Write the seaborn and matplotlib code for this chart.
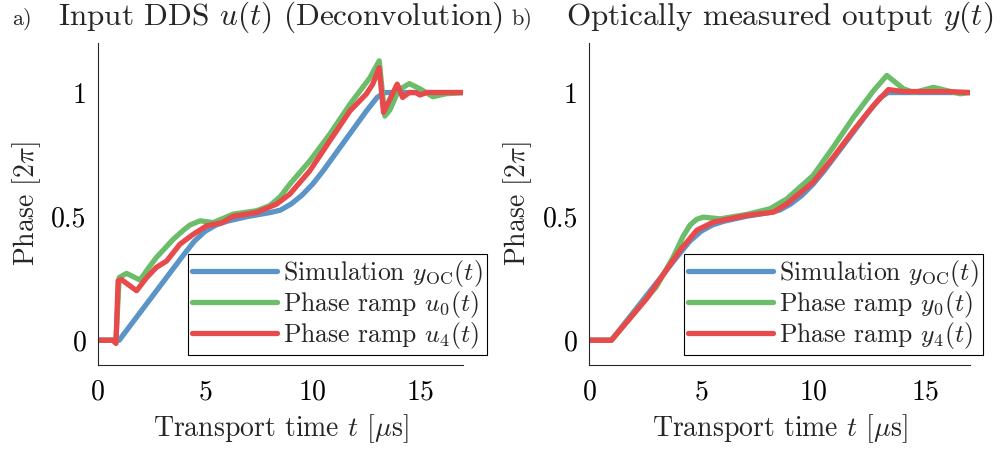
import numpy as np
import pandas as pd
import matplotlib
matplotlib.use("Agg")
import matplotlib.pyplot as plt
import seaborn as sns

# ---------------- data ----------------
t_sim = [0, 1.0, 2, 3, 4, 4.5, 5, 5.5, 6, 7, 8, 8.5, 9, 9.5, 10, 10.5, 11,
         11.5, 12, 12.5, 13, 13.35, 14, 15, 16, 17]
y_sim = [0, 0, 0.115, 0.23, 0.345, 0.40, 0.44, 0.465, 0.48, 0.50, 0.515, 0.525,
         0.55, 0.585, 0.63, 0.685, 0.745, 0.805, 0.865, 0.925, 0.98, 1.0, 1.0,
         1.0, 1.0, 1.0]

# left panel: input DDS u0(t), u4(t)
t_u0 = [0, 0.85, 1.0, 1.34, 1.97, 2.35, 2.73, 3.52, 4.0, 4.29, 4.76, 5.38, 6.3,
        7.4, 8.0, 8.5, 8.94, 9.87, 10.8, 11.74, 12.67, 13.1, 13.36, 13.6, 14.0,
        14.5, 15.0, 15.6, 16.2, 17]
y_u0 = [0, 0, 0.253, 0.27, 0.243, 0.29, 0.334, 0.408, 0.445, 0.465, 0.482,
        0.475, 0.509, 0.523, 0.543, 0.58, 0.63, 0.724, 0.832, 0.953, 1.06,
        1.128, 0.905, 0.93, 1.01, 1.036, 1.015, 0.983, 0.995, 1.0]

t_u4 = [0, 0.7, 0.85, 0.95, 1.1, 1.81, 2.28, 2.73, 3.21, 3.83, 4.45, 5.07, 5.8,
        6.3, 7.4, 8.33, 8.94, 9.87, 10.8, 11.74, 12.5, 12.8, 13.1, 13.3, 13.94,
        14.19, 14.5, 14.8, 15.0, 15.3, 17]
y_u4 = [0, 0, -0.013, 0.24, 0.245, 0.2, 0.253, 0.294, 0.32, 0.388, 0.428, 0.462,
        0.475, 0.5, 0.516, 0.55, 0.59, 0.684, 0.805, 0.926, 0.994, 1.034, 1.10,
        0.92, 1.034, 0.98, 1.0, 1.0, 0.99, 1.0, 1.0]

# right panel: optically measured y0(t), y4(t)
t_y0 = [0, 1.0, 2.57, 3.0, 3.76, 4.2, 4.51, 4.8, 5.1, 5.85, 7.04, 8.08, 8.83,
        10.0, 10.9, 11.8, 12.7, 13.29, 14.03, 14.5, 15.37, 16.56, 17]
y_y0 = [0, 0, 0.17, 0.215, 0.336, 0.42, 0.465, 0.488, 0.497, 0.49, 0.508, 0.531,
        0.571, 0.665, 0.78, 0.9, 1.008, 1.069, 1.015, 1.0, 1.021, 0.995, 1.0]

t_y4 = [0, 1.0, 2.57, 4.06, 4.81, 5.55, 7.04, 8.23, 8.83, 10.0, 10.9, 11.8,
        12.7, 13.36, 14.0, 16.0, 17]
y_y4 = [0, 0, 0.168, 0.363, 0.444, 0.477, 0.504, 0.517, 0.551, 0.638, 0.739,
        0.847, 0.948, 1.012, 1.004, 1.004, 1.0]

labels_a = [r"Simulation $y_{\mathrm{OC}}(t)$", r"Phase ramp $u_0(t)$",
            r"Phase ramp $u_4(t)$"]
labels_b = [r"Simulation $y_{\mathrm{OC}}(t)$", r"Phase ramp $y_0(t)$",
            r"Phase ramp $y_4(t)$"]
titles = [r"Input DDS $u(t)$ (Deconvolution)", r"Optically measured output $y(t)$"]
panel_tags = ["a)", "b)"]
xticks = [0, 5, 10, 15]
yticks = [0, 0.5, 1]
yticklabels = ["0", "0.5", "1"]

colors = ["#5b95c8", "#6cbd6a", "#e84a4b"]

# ---------------- style ----------------
sns.set_theme(style="white")
plt.rcParams.update({
    "font.family": ["cmr10", "DejaVu Serif"],
    "mathtext.fontset": "cm",
    "axes.formatter.use_mathtext": True,
    "axes.unicode_minus": False,
    "axes.edgecolor": "#262626",
    "axes.linewidth": 0.8,
})

fig = plt.figure(figsize=(10.01, 4.5), dpi=100)
W, H = 1001, 450
axA = fig.add_axes([97.7 / W, (H - 365) / H, 365.3 / W, 322 / H])
axB = fig.add_axes([589 / W, (H - 365) / H, 381 / W, 322 / H])


def make_df(t_list, y_list, labels):
    frames = []
    for t, y, lab in zip(t_list, y_list, labels):
        frames.append(pd.DataFrame({"t": t, "phase": y, "series": lab}))
    return pd.concat(frames, ignore_index=True)


dfA = make_df([t_sim, t_u0, t_u4], [y_sim, y_u0, y_u4], labels_a)
dfB = make_df([t_sim, t_y0, t_y4], [y_sim, y_y0, y_y4], labels_b)

legend_boxes = [(487 - 97.7) / 365.3, (983 - 589) / 381]

for ax, df, labels, title, tag, lbx in zip(
        [axA, axB], [dfA, dfB], [labels_a, labels_b], titles, panel_tags,
        legend_boxes):
    sns.lineplot(data=df, x="t", y="phase", hue="series", hue_order=labels,
                 palette=colors, linewidth=3.8, estimator=None, sort=False,
                 ax=ax)
    for ln in ax.get_lines():
        ln.set_solid_joinstyle("round")
        ln.set_solid_capstyle("round")
    ax.set_xlim(0, 17)
    ax.set_ylim(-0.1, 1.2)
    ax.set_xticks(xticks)
    ax.set_yticks(yticks)
    ax.set_yticklabels(yticklabels)
    ax.tick_params(direction="in", length=4, width=0.8, labelsize=20,
                   colors="#262626", labelcolor="black")
    ax.tick_params(axis="x", pad=10)
    ax.tick_params(axis="y", pad=8)
    for s in ["top", "right"]:
        ax.spines[s].set_visible(False)
    ax.set_xlabel(r"Transport time $t$ [$\mu$s]", fontsize=20, labelpad=5)
    ax.set_ylabel(r"Phase $[2\pi]$", fontsize=20, labelpad=6)
    ax.set_title(title, fontsize=22.5, pad=13)
    handles, _ = ax.get_legend_handles_labels()
    leg = ax.legend(handles, labels, loc="lower right",
                    bbox_to_anchor=(lbx, 10 / 322), bbox_transform=ax.transAxes,
                    borderaxespad=0.0,
                    fontsize=18.5, frameon=True, fancybox=False,
                    edgecolor="black", framealpha=1, handlelength=3.3,
                    handletextpad=0.25, labelspacing=0.0, borderpad=0.15)
    leg.get_frame().set_linewidth(0.8)
    for line in leg.get_lines():
        line.set_linewidth(3.8)

fig.text(12 / W, 1 - 25 / H, panel_tags[0], fontsize=16, va="baseline")
fig.text(511 / W, 1 - 25 / H, panel_tags[1], fontsize=16, va="baseline")

fig.savefig("out.png", dpi=100)
